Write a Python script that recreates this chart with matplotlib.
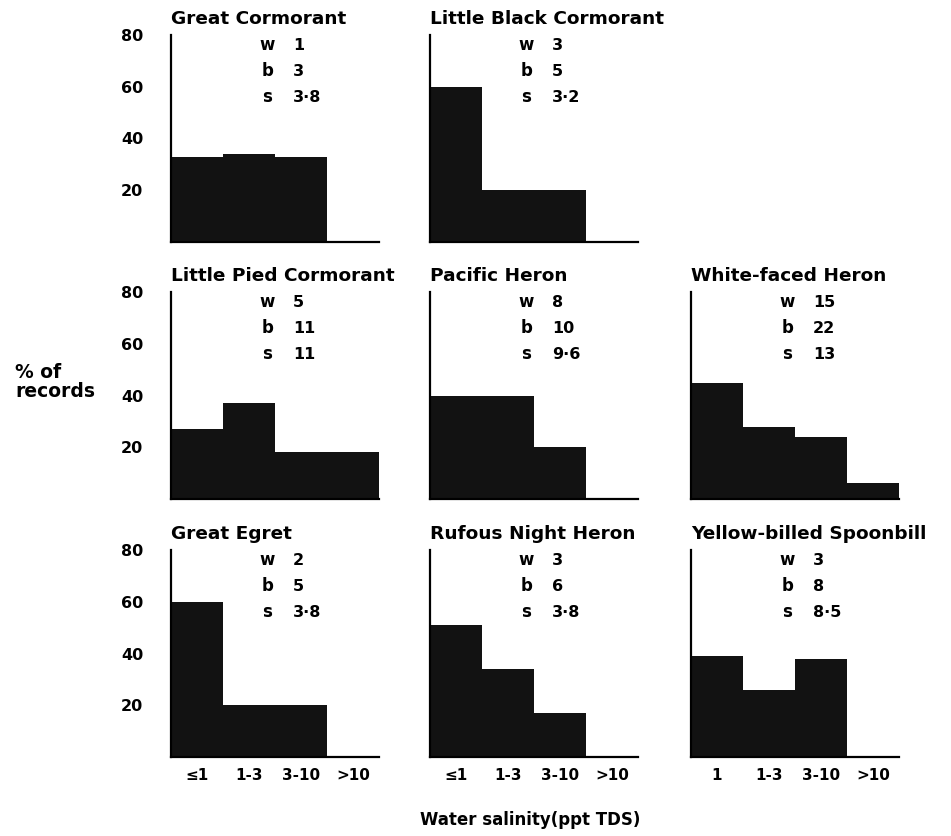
import matplotlib.pyplot as plt

plt.rcParams['font.family'] = 'DejaVu Sans'
plt.rcParams['font.weight'] = 'bold'

salinity_classes = ['≤1', '1-3', '3-10', '>10']
spoonbill_classes = ['1', '1-3', '3-10', '>10']

species = ['Great Cormorant', 'Little Black Cormorant', 'Little Pied Cormorant',
           'Pacific Heron', 'White-faced Heron', 'Great Egret',
           'Rufous Night Heron', 'Yellow-billed Spoonbill']

great_cormorant = [33, 34, 33, 0]
little_black_cormorant = [60, 20, 20, 0]
little_pied_cormorant = [27, 37, 18, 18]
pacific_heron = [40, 40, 20, 0]
white_faced_heron = [45, 28, 24, 6]
great_egret = [60, 20, 20, 0]
rufous_night_heron = [51, 34, 17, 0]
yellow_billed_spoonbill = [39, 26, 38, 0]

w_counts = ['1', '3', '5', '8', '15', '2', '3', '3']
b_counts = ['3', '5', '11', '10', '22', '5', '6', '8']
s_values = ['3·8', '3·2', '11', '9·6', '13', '3·8', '3·8', '8·5']

percents = [great_cormorant, little_black_cormorant, little_pied_cormorant,
            pacific_heron, white_faced_heron, great_egret,
            rufous_night_heron, yellow_billed_spoonbill]

# grid slot (row, col) of each panel
slots = [(0, 0), (0, 1), (1, 0), (1, 1), (1, 2), (2, 0), (2, 1), (2, 2)]

W, H = 951, 836
fig = plt.figure(figsize=(W / 100, H / 100), dpi=100)

col_left = [171, 430, 691]
row_bottom = [242, 499, 757]
ax_w, ax_h = 208, 207

for i, name in enumerate(species):
    r, c = slots[i]
    ax = fig.add_axes([col_left[c] / W, 1 - row_bottom[r] / H, ax_w / W, ax_h / H])
    ax.bar(range(4), percents[i], width=1.0, align='edge', color='#121212', linewidth=0)
    ax.set_xlim(0, 4)
    ax.set_ylim(0, 80)
    for side in ['top', 'right']:
        ax.spines[side].set_visible(False)
    ax.spines['left'].set_linewidth(1.6)
    ax.spines['bottom'].set_linewidth(1.6)
    ax.tick_params(length=0)
    ax.set_yticks([20, 40, 60, 80])
    if c == 0:
        ax.tick_params(axis='y', pad=20, labelsize=11.5)
    else:
        ax.set_yticklabels([])
    if r == 2:
        ax.set_xticks([0.5, 1.5, 2.5, 3.5])
        labels = spoonbill_classes if name == 'Yellow-billed Spoonbill' else salinity_classes
        ax.set_xticklabels(labels, fontsize=11)
        ax.tick_params(axis='x', pad=8)
    else:
        ax.set_xticks([])
    ax.text(0, 1.078, name, transform=ax.transAxes, fontsize=13.3,
            fontweight='bold', ha='left', va='center')
    for k, (lab, val) in enumerate([('w', w_counts[i]), ('b', b_counts[i]), ('s', s_values[i])]):
        y = 76 - 10 * k
        ax.text(1.85, y, lab, fontsize=12, ha='center', va='center')
        ax.text(2.35, y, val, fontsize=11.5, ha='left', va='center')

fig.text(15 / W, 1 - 382 / H, '% of\nrecords', fontsize=13.5, fontweight='bold',
         ha='left', va='center', linespacing=1.05)
fig.text(530 / W, 1 - 820 / H, 'Water salinity(ppt TDS)', fontsize=12,
         fontweight='bold', ha='center', va='center')

fig.savefig('out.png', dpi=100)
